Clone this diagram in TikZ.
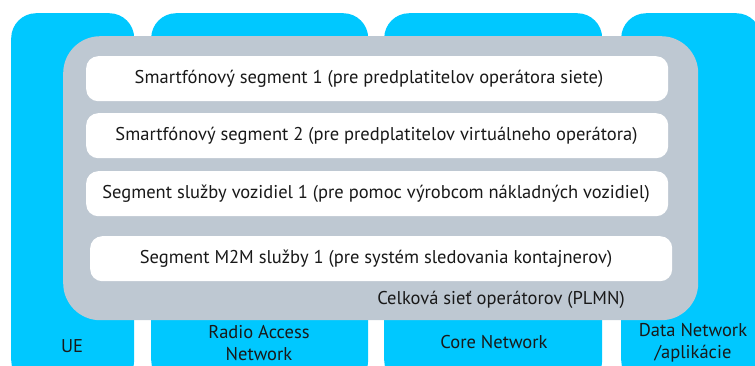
\documentclass[tikz,border=0pt]{standalone}
\usepackage{fontspec}
\setmainfont{PT Sans}
\definecolor{colblue}{RGB}{0,200,255}
\definecolor{plmngray}{RGB}{190,200,210}
\definecolor{txt}{RGB}{25,25,25}
\begin{document}
\begin{tikzpicture}[x=1pt,y=-1pt,
  col/.style={fill=colblue, draw=none, rounded corners=25pt, anchor=north west, inner sep=0pt, minimum height=372pt},
  plmn/.style={fill=plmngray, draw=none, rounded corners=37pt, anchor=north west, inner sep=0pt},
  seg/.style={fill=white, draw=none, rounded corners=12pt, anchor=north west, inner sep=0pt, minimum height=45pt},
  lbl/.style={text=txt, font=\fontsize{18.5}{22}\selectfont, inner sep=0pt, align=center}]
\useasboundingbox (0,0) rectangle (755,365);
\clip (0,0) rectangle (755,365);
% columns
\node[col, minimum width=123pt] (ue) at (11,13) {};
\node[col, minimum width=217pt] (ran) at (151,13) {};
\node[col, minimum width=218pt] (core) at (384,13) {};
\node[col, minimum width=140pt] (dn) at (621,13) {};
% PLMN
\node[plmn, minimum width=635pt, minimum height=284pt] (plmn) at (63,36) {};
% segments
\node[seg, minimum width=582pt] (s1) at (86,56) {};
\node[seg, minimum width=582pt] (s2) at (86,113) {};
\node[seg, minimum width=582pt] (s3) at (86,171) {};
\node[seg, minimum width=582pt] (s4) at (90,236) {};
% segment texts
\node[lbl] (t1) at (369,78.5) {Smartfónový segment 1 (pre predplatitelov operátora siete)};
\node[lbl] (t2) at (376.5,135.5) {Smartfónový segment 2 (pre predplatitelov virtuálneho operátora)};
\node[lbl] (t3) at (376,193.5) {Segment služby vozidiel 1 (pre pomoc výrobcom nákladných vozidiel)};
\node[lbl] (t4) at (376,258.5) {Segment M2M služby 1 (pre systém sledovania kontajnerov)};
\node[lbl] (tp) at (501,300) {Celková sieť operátorov (PLMN)};
% column labels
\node[lbl] (lue) at (72,346) {UE};
\node[lbl] (lran) at (259,343) {Radio Access\\Network};
\node[lbl] (lcore) at (494,342) {Core Network};
\node[lbl] (ldn) at (693,343) {Data Network\\/aplikácie};
\end{tikzpicture}
\end{document}
